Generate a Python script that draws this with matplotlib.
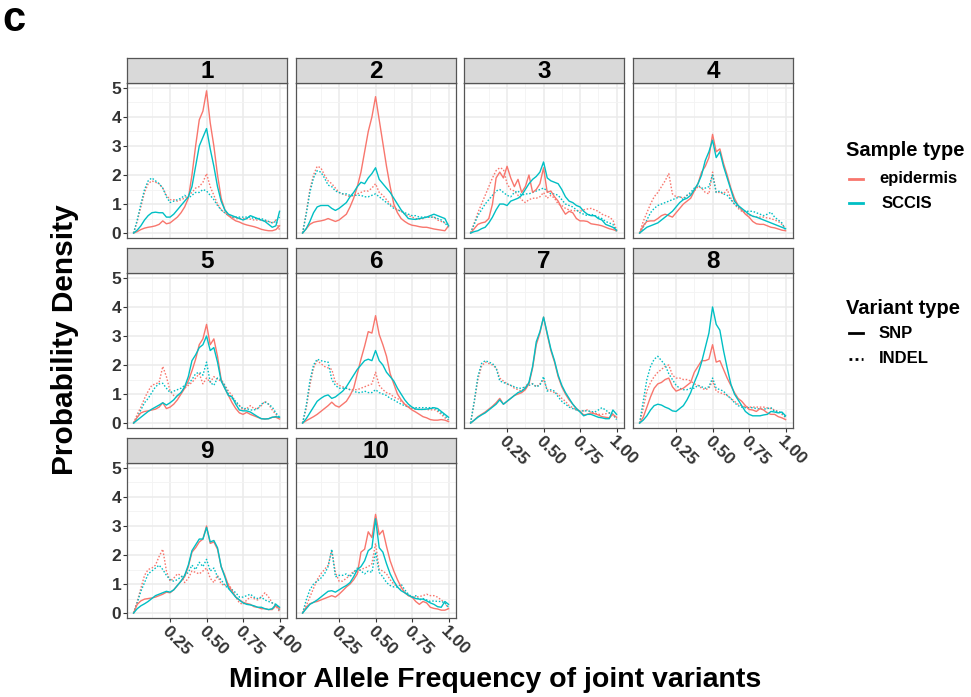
import matplotlib
matplotlib.use('Agg')
import matplotlib.pyplot as plt
from matplotlib.lines import Line2D
import numpy as np

plt.rcParams['font.family'] = ['Liberation Sans', 'DejaVu Sans']

#-----------------------------------------------------------------------------
#                                  Data
#-----------------------------------------------------------------------------

# minor allele frequency grid (0 .. 1, step 0.025)
maf = np.linspace(0, 1, 41)
panels = ['1', '2', '3', '4', '5', '6', '7', '8', '9', '10']

# epidermis, SNP (red solid)
epi_snp = [
    [0,0.05,0.12,0.17,0.2,0.22,0.25,0.3,0.42,0.32,0.35,0.45,0.55,0.7,0.9,1.2,2.0,3.0,3.9,4.2,4.9,3.8,3.0,2.0,1.2,0.8,0.6,0.5,0.42,0.38,0.32,0.28,0.25,0.22,0.18,0.13,0.1,0.08,0.08,0.12,0.25],
    [0,0.15,0.3,0.37,0.4,0.42,0.45,0.5,0.45,0.4,0.45,0.55,0.65,0.9,1.2,1.6,2.1,2.8,3.5,4.0,4.7,3.9,3.1,2.3,1.6,1.0,0.7,0.5,0.4,0.32,0.27,0.25,0.22,0.2,0.2,0.17,0.14,0.12,0.1,0.08,0.25],
    [0,0.15,0.3,0.35,0.38,0.5,1.0,1.9,2.1,1.9,2.3,1.9,1.6,1.85,1.4,1.6,2.0,1.4,1.5,1.7,2.25,1.4,1.45,1.25,1.1,0.85,0.65,0.75,0.7,0.5,0.42,0.42,0.4,0.32,0.3,0.28,0.25,0.2,0.15,0.12,0.08],
    [0,0.25,0.4,0.42,0.42,0.5,0.6,0.65,0.6,0.55,0.7,0.85,1.0,1.1,1.2,1.45,1.7,2.1,2.3,2.6,3.4,2.8,2.9,2.4,2.0,1.55,1.2,0.95,0.8,0.65,0.55,0.4,0.32,0.3,0.3,0.25,0.2,0.18,0.14,0.1,0.08],
    [0,0.2,0.35,0.4,0.42,0.45,0.48,0.55,0.7,0.5,0.55,0.65,0.8,1.0,1.2,1.45,1.8,2.2,2.7,2.9,3.4,2.7,2.9,2.3,1.5,1.2,0.95,0.7,0.5,0.35,0.3,0.37,0.3,0.25,0.2,0.15,0.14,0.15,0.2,0.2,0.14],
    [0,0.08,0.15,0.22,0.3,0.4,0.5,0.6,0.72,0.6,0.55,0.65,0.75,0.95,1.2,1.7,2.2,2.65,3.15,3.1,3.7,3.05,2.7,2.3,1.7,1.35,1.0,0.8,0.65,0.55,0.45,0.38,0.3,0.22,0.18,0.12,0.1,0.1,0.12,0.1,0.05],
    [0,0.1,0.22,0.3,0.38,0.48,0.58,0.7,0.85,0.65,0.75,0.85,0.95,1.0,1.05,1.15,1.35,1.9,2.7,3.1,3.65,3.05,2.5,2.1,1.6,1.25,1.0,0.8,0.65,0.5,0.4,0.28,0.3,0.35,0.32,0.28,0.22,0.2,0.18,0.3,0.2],
    [0,0.2,0.55,0.9,1.2,1.35,1.4,1.5,1.55,1.25,1.1,1.15,1.2,1.3,1.4,1.75,1.95,2.15,2.15,2.2,2.7,2.1,2.15,1.85,1.55,1.3,1.05,0.85,0.75,0.6,0.47,0.45,0.4,0.5,0.45,0.35,0.3,0.3,0.22,0.18,0.12],
    [0,0.3,0.42,0.48,0.5,0.52,0.55,0.6,0.65,0.72,0.7,0.8,0.95,1.1,1.25,1.6,2.1,2.25,2.45,2.55,3.0,2.4,2.45,2.2,1.6,1.3,0.95,0.75,0.55,0.45,0.37,0.33,0.3,0.22,0.2,0.15,0.15,0.12,0.12,0.25,0.14],
    [0,0.2,0.32,0.37,0.4,0.45,0.5,0.55,0.6,0.55,0.65,0.77,0.9,1.0,1.15,1.35,2.1,2.2,2.8,2.6,3.4,2.7,2.85,2.3,1.8,1.45,1.15,0.9,0.7,0.6,0.55,0.4,0.3,0.4,0.35,0.2,0.16,0.14,0.1,0.1,0.15],
]

# SCCIS, SNP (teal solid)
sccis_snp = [
    [0,0.1,0.25,0.45,0.6,0.7,0.72,0.7,0.7,0.55,0.55,0.65,0.8,0.95,1.1,1.25,1.6,2.3,3.0,3.3,3.6,2.9,2.3,1.6,1.1,0.8,0.65,0.6,0.55,0.5,0.45,0.5,0.6,0.55,0.5,0.45,0.4,0.3,0.2,0.25,0.75],
    [0,0.15,0.4,0.7,0.9,0.95,0.95,0.95,0.85,0.78,0.85,0.95,1.05,1.25,1.4,1.6,1.75,1.7,1.9,2.05,2.25,1.85,1.7,1.55,1.4,1.2,1.0,0.8,0.65,0.5,0.48,0.47,0.5,0.52,0.55,0.6,0.65,0.6,0.55,0.5,0.25],
    [0,0.05,0.08,0.15,0.2,0.35,0.55,0.8,1.0,1.0,0.95,1.1,1.15,1.2,1.3,1.5,1.7,1.85,1.95,2.1,2.45,1.9,1.8,1.75,1.7,1.5,1.25,1.1,1.05,0.95,0.9,0.75,0.65,0.6,0.6,0.5,0.45,0.3,0.25,0.2,0.1],
    [0,0.1,0.2,0.25,0.3,0.35,0.45,0.55,0.65,0.75,0.9,1.05,1.15,1.2,1.3,1.5,1.7,2.0,2.5,2.8,3.2,2.6,2.8,2.3,1.9,1.5,1.1,0.95,0.85,0.75,0.65,0.58,0.55,0.5,0.45,0.4,0.35,0.3,0.25,0.2,0.15],
    [0,0.1,0.2,0.3,0.4,0.48,0.55,0.62,0.7,0.62,0.7,0.8,0.95,1.05,1.25,1.6,2.15,2.35,2.6,2.7,3.0,2.5,2.6,2.1,1.45,1.2,0.95,0.9,0.65,0.45,0.42,0.42,0.38,0.3,0.22,0.15,0.14,0.15,0.2,0.22,0.2],
    [0,0.15,0.35,0.55,0.75,0.85,0.93,0.97,0.85,0.9,1.0,1.1,1.25,1.45,1.65,1.85,2.0,2.15,2.2,2.15,2.5,2.15,2.0,1.75,1.6,1.45,1.2,1.0,0.8,0.65,0.55,0.48,0.47,0.47,0.48,0.5,0.53,0.5,0.4,0.3,0.2],
    [0,0.1,0.2,0.28,0.35,0.45,0.55,0.65,0.8,0.65,0.75,0.85,0.95,1.05,1.1,1.2,1.4,1.95,2.8,3.15,3.65,3.1,2.55,2.15,1.65,1.3,1.05,0.85,0.65,0.5,0.38,0.25,0.3,0.3,0.25,0.2,0.18,0.15,0.15,0.45,0.3],
    [0,0.1,0.25,0.45,0.6,0.65,0.62,0.55,0.5,0.42,0.4,0.5,0.6,0.8,1.05,1.4,1.7,2.1,2.6,3.1,4.0,3.4,3.2,2.5,1.9,1.35,1.0,0.8,0.6,0.4,0.3,0.25,0.25,0.25,0.28,0.3,0.4,0.38,0.35,0.38,0.25],
    [0,0.15,0.25,0.32,0.4,0.5,0.6,0.65,0.7,0.75,0.72,0.8,0.95,1.1,1.3,1.65,2.15,2.35,2.55,2.55,2.95,2.45,2.5,2.25,1.6,1.25,0.85,0.7,0.55,0.45,0.35,0.3,0.28,0.25,0.2,0.2,0.15,0.12,0.15,0.3,0.2],
    [0,0.15,0.3,0.37,0.45,0.55,0.65,0.75,0.77,0.72,0.8,0.88,0.95,1.05,1.25,1.5,1.6,1.8,2.15,2.25,3.25,2.25,2.1,1.7,1.35,1.1,0.9,0.77,0.7,0.62,0.55,0.5,0.48,0.48,0.42,0.35,0.3,0.22,0.2,0.4,0.3],
]

# epidermis, INDEL (red dotted)
epi_indel = [
    [0,0.4,0.9,1.4,1.7,1.8,1.75,1.7,1.55,1.3,1.15,1.15,1.1,1.15,1.2,1.3,1.4,1.55,1.6,1.75,2.05,1.6,1.3,1.0,0.8,0.7,0.6,0.55,0.5,0.5,0.5,0.5,0.48,0.45,0.45,0.45,0.42,0.4,0.35,0.45,0.1],
    [0,0.7,1.5,2.0,2.3,2.25,2.0,1.8,1.7,1.55,1.4,1.35,1.3,1.25,1.3,1.35,1.4,1.45,1.45,1.55,1.7,1.4,1.3,1.15,1.0,0.9,0.8,0.75,0.65,0.6,0.55,0.5,0.48,0.5,0.55,0.55,0.55,0.45,0.4,0.35,0.3],
    [0,0.35,0.7,1.0,1.3,1.6,1.9,2.15,2.25,2.2,1.7,1.5,1.45,1.3,1.15,1.05,1.15,1.2,1.2,1.25,1.4,1.2,1.3,1.2,1.0,0.95,0.85,0.8,0.77,0.77,0.75,0.8,0.83,0.85,0.8,0.75,0.65,0.6,0.55,0.45,0.1],
    [0,0.4,0.7,1.0,1.25,1.4,1.6,1.8,2.05,1.35,1.25,1.25,1.2,1.3,1.35,1.45,1.6,1.55,1.4,1.35,2.1,1.4,1.4,1.35,1.5,1.2,1.0,0.85,0.75,0.7,0.62,0.58,0.55,0.55,0.55,0.52,0.5,0.45,0.4,0.3,0.15],
    [0,0.3,0.55,0.85,1.1,1.3,1.35,1.4,1.95,1.6,1.1,0.95,0.9,1.05,1.2,1.3,1.4,1.55,1.7,1.35,1.55,1.4,1.6,1.5,1.45,1.3,1.1,0.95,0.7,0.6,0.45,0.5,0.6,0.5,0.5,0.6,0.75,0.65,0.45,0.3,0.15],
    [0,0.5,1.3,1.9,2.15,2.05,1.95,1.9,1.85,1.4,1.3,1.25,1.2,1.15,1.15,1.15,1.2,1.25,1.3,1.35,1.75,1.3,1.15,1.05,1.0,0.9,0.85,0.75,0.65,0.55,0.5,0.47,0.47,0.47,0.47,0.45,0.47,0.4,0.3,0.18,0.1],
    [0,0.7,1.5,1.95,2.1,2.05,2.0,1.9,1.55,1.45,1.35,1.3,1.2,1.15,1.1,1.25,1.4,1.35,1.25,1.35,1.5,1.15,1.1,1.05,1.0,0.85,0.75,0.6,0.53,0.45,0.4,0.42,0.45,0.38,0.35,0.3,0.3,0.32,0.35,0.3,0.15],
    [0,0.5,1.1,1.4,1.6,1.75,1.85,1.95,2.0,1.65,1.55,1.55,1.5,1.5,1.45,1.35,1.3,1.2,1.15,1.2,1.45,1.1,1.05,1.0,0.95,0.85,0.75,0.65,0.6,0.55,0.55,0.55,0.55,0.55,0.55,0.52,0.5,0.45,0.4,0.3,0.2],
    [0,0.4,0.85,1.3,1.5,1.55,1.65,1.95,2.2,1.45,1.1,1.2,1.35,1.3,1.05,1.2,1.45,1.4,1.35,1.45,1.55,1.2,1.05,1.3,1.0,0.95,1.0,0.8,0.55,0.35,0.3,0.45,0.55,0.5,0.45,0.55,0.7,0.55,0.35,0.25,0.05],
    [0,0.25,0.55,0.85,1.15,1.35,1.5,1.65,2.15,1.4,1.1,1.1,1.2,1.3,1.45,1.4,1.5,1.55,1.6,1.7,2.4,1.5,1.45,1.35,1.15,1.0,0.9,0.8,0.72,0.6,0.55,0.55,0.57,0.6,0.65,0.6,0.6,0.55,0.45,0.35,0.15],
]

# SCCIS, INDEL (teal dotted)
sccis_indel = [
    [0,0.45,1.0,1.5,1.8,1.9,1.8,1.7,1.55,1.25,1.05,1.1,1.15,1.2,1.3,1.2,1.3,1.4,1.4,1.5,1.45,1.3,1.15,0.95,0.8,0.7,0.6,0.55,0.55,0.55,0.55,0.55,0.55,0.5,0.5,0.5,0.45,0.4,0.35,0.4,0.55],
    [0,0.65,1.4,1.9,2.15,2.1,1.9,1.65,1.6,1.45,1.4,1.35,1.35,1.3,1.3,1.3,1.3,1.25,1.25,1.3,1.35,1.25,1.15,1.05,0.95,0.85,0.8,0.75,0.7,0.65,0.6,0.6,0.55,0.55,0.55,0.55,0.55,0.5,0.45,0.35,0.2],
    [0,0.3,0.6,0.8,1.0,1.15,1.3,1.45,1.5,1.4,1.3,1.25,1.4,1.45,1.3,1.35,1.35,1.4,1.45,1.5,1.55,1.45,1.35,1.35,1.3,1.15,1.0,0.95,0.9,0.8,0.7,0.65,0.6,0.65,0.6,0.55,0.5,0.4,0.35,0.3,0.05],
    [0,0.2,0.45,0.7,0.85,0.95,1.0,1.05,1.1,1.15,1.2,1.25,1.15,1.3,1.4,1.55,1.65,1.55,1.55,1.6,2.0,1.4,1.45,1.35,1.3,1.15,1.0,0.9,0.8,0.75,0.75,0.75,0.7,0.65,0.6,0.65,0.72,0.55,0.45,0.35,0.1],
    [0,0.2,0.45,0.7,0.85,1.05,1.25,1.35,1.37,1.2,1.05,1.1,1.15,1.2,1.3,1.35,1.5,1.7,1.75,1.65,2.1,1.4,1.3,1.55,1.5,1.3,1.0,0.85,0.75,0.6,0.5,0.5,0.45,0.45,0.5,0.65,0.72,0.65,0.55,0.35,0.2],
    [0,0.6,1.45,2.0,2.2,2.15,2.12,2.1,1.5,1.3,1.2,1.2,1.2,1.15,1.1,1.05,1.05,1.1,1.05,1.05,1.15,1.05,1.0,0.95,0.85,0.8,0.72,0.65,0.6,0.55,0.53,0.53,0.53,0.53,0.53,0.53,0.53,0.45,0.35,0.25,0.12],
    [0,0.75,1.6,2.05,2.15,2.1,2.05,1.9,1.45,1.4,1.35,1.3,1.25,1.2,1.2,1.25,1.3,1.35,1.25,1.3,1.6,1.1,1.15,1.1,0.9,0.75,0.65,0.55,0.5,0.45,0.42,0.42,0.42,0.4,0.38,0.45,0.53,0.45,0.35,0.3,0.12],
    [0,0.75,1.5,1.95,2.2,2.3,2.15,2.0,1.7,1.5,1.3,1.2,1.15,1.15,1.2,1.2,1.3,1.25,1.2,1.25,1.55,1.2,1.15,1.1,0.95,0.85,0.7,0.6,0.55,0.53,0.53,0.53,0.5,0.48,0.48,0.5,0.53,0.4,0.4,0.35,0.2],
    [0,0.35,0.75,1.05,1.35,1.45,1.55,1.65,1.5,1.3,1.15,1.1,1.15,1.25,1.3,1.4,1.65,1.5,1.75,1.6,1.85,1.45,1.55,1.25,1.15,0.95,0.85,0.8,0.7,0.55,0.55,0.6,0.65,0.55,0.5,0.55,0.45,0.4,0.35,0.3,0.1],
    [0,0.45,0.8,1.0,1.1,1.2,1.35,1.6,2.2,1.25,1.3,1.3,1.35,1.25,1.4,1.55,1.45,1.35,1.45,1.4,2.1,1.4,1.25,1.05,0.95,0.9,0.9,1.0,0.8,0.65,0.55,0.6,0.45,0.5,0.45,0.4,0.42,0.4,0.4,0.35,0.2],
]

x_breaks = [0.25, 0.5, 0.75, 1.0]
x_labels = ['0.25', '0.50', '0.75', '1.00']
y_breaks = [0, 1, 2, 3, 4, 5]

RED = '#F8766D'
TEAL = '#00BFC4'
DOT = (0, (1.1, 1.3))

#-----------------------------------------------------------------------------
#                                  Layout
#-----------------------------------------------------------------------------

W, H = 971, 697
fig = plt.figure(figsize=(W / 100, H / 100), dpi=100)

col_left = [127, 296, 464, 633]
row_top = [83, 273, 463]
pw, ph, sh = 160, 155, 25


def frac(x, y, w, h):
    return [x / W, 1 - (y + h) / H, w / W, h / H]


for k, name in enumerate(panels):
    r, c = k // 4, k % 4
    ax = fig.add_axes(frac(col_left[c], row_top[r], pw, ph))
    st = fig.add_axes(frac(col_left[c], row_top[r] - sh, pw, sh))

    # strip
    st.set_facecolor('#D9D9D9')
    st.set_xticks([])
    st.set_yticks([])
    for s in st.spines.values():
        s.set_color('#555555')
        s.set_linewidth(0.9)
    st.text(0.5, 0.44, name, ha='center', va='center', fontsize=17.5,
            fontweight='bold', transform=st.transAxes)

    # panel
    ax.set_xlim(-0.045, 1.051)
    ax.set_ylim(-0.17, 5.17)
    ax.set_xticks(x_breaks)
    ax.set_xticks([0.125, 0.375, 0.625, 0.875], minor=True)
    ax.set_yticks(y_breaks)
    ax.set_yticks([0.5, 1.5, 2.5, 3.5, 4.5], minor=True)
    ax.grid(which='major', color='#EBEBEB', linewidth=1.1)
    ax.grid(which='minor', color='#F3F3F3', linewidth=0.6)
    ax.set_axisbelow(True)
    for s in ax.spines.values():
        s.set_color('#555555')
        s.set_linewidth(0.9)

    ax.plot(maf, epi_indel[k], color=RED, lw=1.0, ls=DOT)
    ax.plot(maf, sccis_indel[k], color=TEAL, lw=1.0, ls=DOT)
    ax.plot(maf, epi_snp[k], color=RED, lw=1.0)
    ax.plot(maf, sccis_snp[k], color=TEAL, lw=1.0)

    ax.tick_params(which='minor', length=0)
    if c == 0:
        ax.tick_params(axis='y', which='major', length=3, width=0.8,
                       color='#333333', labelsize=12.5, labelcolor='#333333', pad=1)
        for lab in ax.get_yticklabels():
            lab.set_fontweight('bold')
    else:
        ax.tick_params(axis='y', which='major', length=0, labelleft=False)

    bottom = (k + 4) >= len(panels)
    if bottom:
        ax.set_xticklabels(x_labels)
        ax.tick_params(axis='x', which='major', length=3, width=0.8,
                       color='#333333', labelsize=12.5, labelcolor='#333333', pad=1)
        for lab in ax.get_xticklabels():
            lab.set_fontweight('bold')
            lab.set_rotation(-45)
            lab.set_ha('left')
            lab.set_va('top')
            lab.set_rotation_mode('anchor')
    else:
        ax.tick_params(axis='x', which='major', length=0, labelbottom=False)

#-----------------------------------------------------------------------------
#                                  Text / legend
#-----------------------------------------------------------------------------

fig.text(2 / W, 1 - 0 / H, 'c', ha='left', va='top', fontsize=30, fontweight='bold')
fig.text(65 / W, 1 - 340 / H, 'Probability Density', rotation=90, ha='center',
         va='center', fontsize=21.5, fontweight='bold')
fig.text(495 / W, 1 - 680 / H, 'Minor Allele Frequency of joint variants',
         ha='center', va='center', fontsize=20.5, fontweight='bold')


def leg_line(y, color, ls):
    fig.add_artist(Line2D([849 / W, 863 / W], [1 - y / H, 1 - y / H],
                          transform=fig.transFigure, color=color, lw=2.0, ls=ls))


fig.text(846 / W, 1 - 150 / H, 'Sample type', ha='left', va='center',
         fontsize=14.5, fontweight='bold')
leg_line(179, RED, '-')
fig.text(879 / W, 1 - 179 / H, 'epidermis', ha='left', va='center',
         fontsize=12, fontweight='bold')
leg_line(203, TEAL, '-')
fig.text(882 / W, 1 - 203 / H, 'SCCIS', ha='left', va='center',
         fontsize=12, fontweight='bold')

fig.text(846 / W, 1 - 308 / H, 'Variant type', ha='left', va='center',
         fontsize=14.5, fontweight='bold')
leg_line(333, 'black', '-')
fig.text(879 / W, 1 - 333 / H, 'SNP', ha='left', va='center',
         fontsize=12, fontweight='bold')
leg_line(359, 'black', (0, (1, 1.2)))
fig.text(879 / W, 1 - 359 / H, 'INDEL', ha='left', va='center',
         fontsize=12, fontweight='bold')

fig.savefig('out.png', dpi=100)
